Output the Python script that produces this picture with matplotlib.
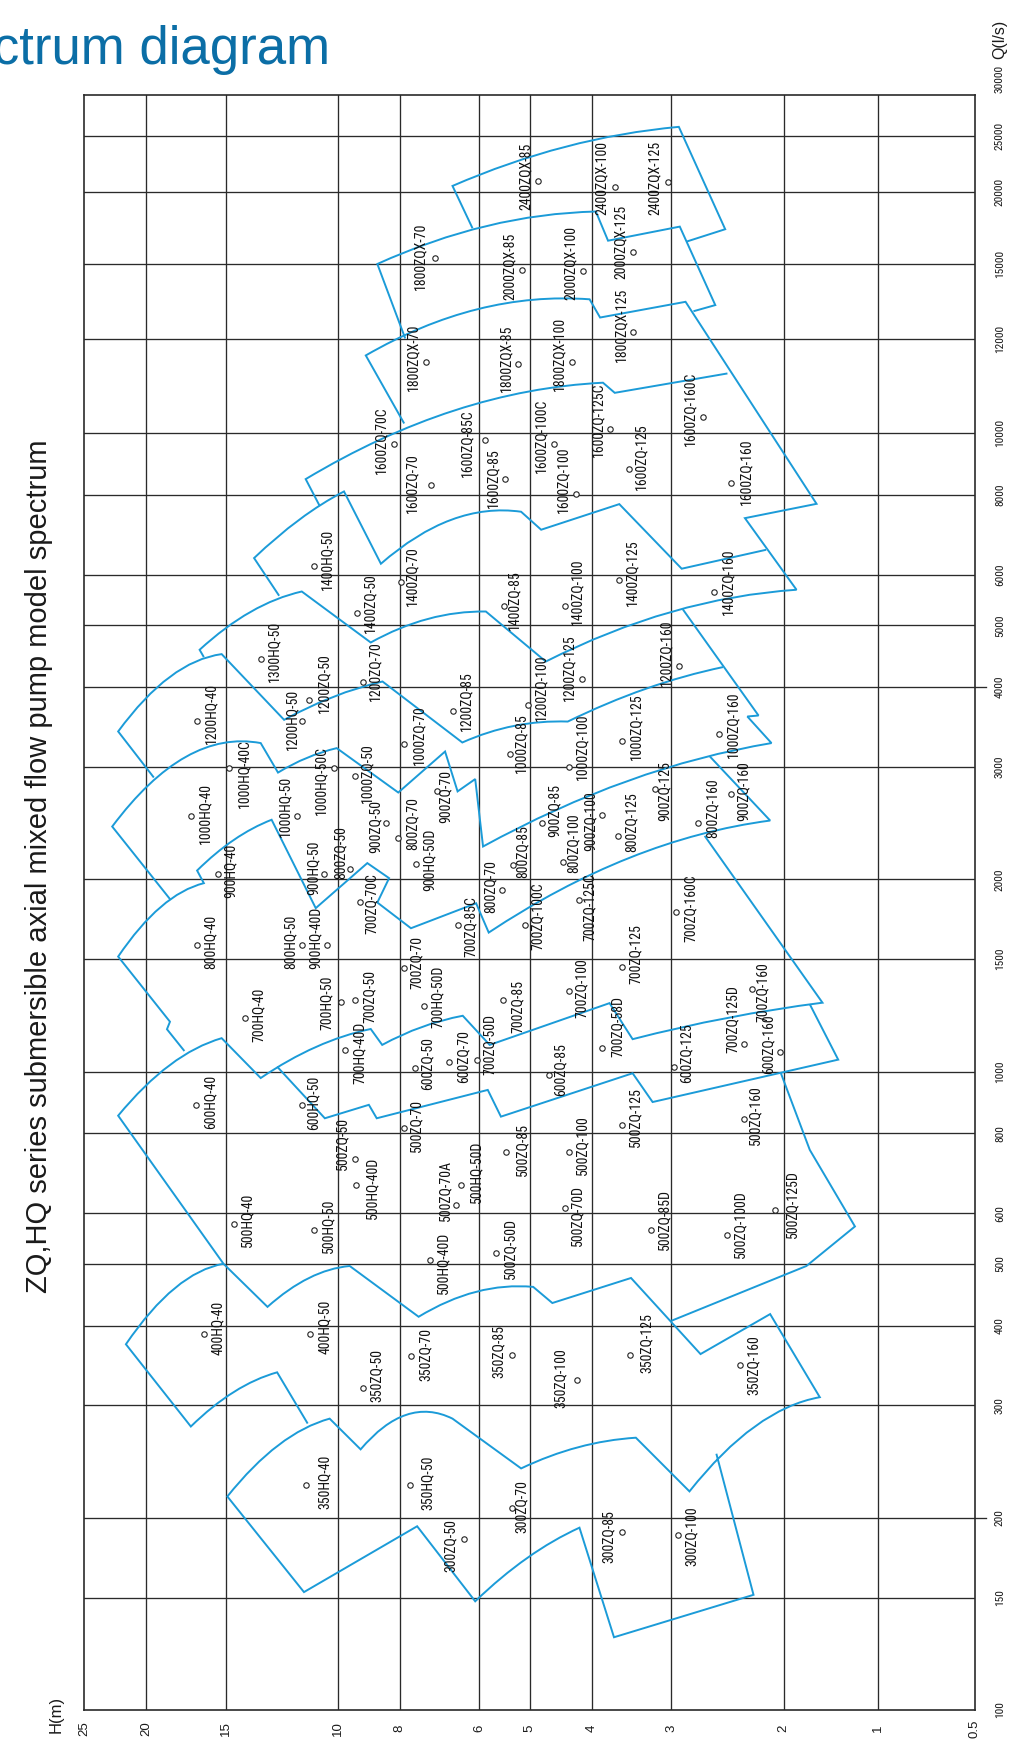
import os
import numpy as np
import matplotlib
matplotlib.use('Agg')
import matplotlib.pyplot as plt
from matplotlib.path import Path
from matplotlib.patches import PathPatch
from matplotlib.textpath import TextPath
from matplotlib import font_manager
from matplotlib.font_manager import FontProperties

# axis definition: log in both directions, but the low-head end (H<2)
# and the very large flows (Q>10000) are stretched on the printed sheet
H_KNOTS = [0.5, 1, 2, 25]
H_AXIS = [0.001, 0.153, 0.301, 1.398]
Q_KNOTS = [100, 10000, 12000, 15000, 20000, 25000, 30000]
Q_AXIS = [2.0, 4.0, 4.147, 4.265, 4.378, 4.465, 4.555]

H_GRID = [20, 15, 10, 8, 6, 5, 4, 3, 2, 1]
H_TICKS = [25, 20, 15, 10, 8, 6, 5, 4, 3, 2, 1, 0.5]
Q_GRID = [150, 200, 300, 400, 500, 600, 800, 1000, 1500, 2000, 3000, 4000,
          5000, 6000, 8000, 10000, 12000, 15000, 20000, 25000]
Q_TICKS = [100, 150, 200, 300, 400, 500, 600, 800, 1000, 1500, 2000, 3000,
           4000, 5000, 6000, 8000, 10000, 12000, 15000, 20000, 25000, 30000]
Q_LONG = [4000, 200]   # these two grid lines run out past the frame

# model points: (name, H m, Q l/s)
MODELS = [
    ('350HQ-40', 11.23, 225), ('350HQ-50', 7.70, 225), ('300ZQ-50', 6.35, 185),
    ('300ZQ-70', 5.33, 207.5), ('300ZQ-85', 3.59, 190), ('300ZQ-100', 2.93, 188),
    ('350ZQ-50', 9.12, 320), ('350ZQ-70', 7.68, 358), ('350ZQ-85', 5.33, 360),
    ('350ZQ-100', 4.21, 329), ('350ZQ-125', 3.48, 360), ('350ZQ-160', 2.34, 347),
    ('400HQ-40', 16.19, 388), ('400HQ-50', 11.07, 388),
    ('500HQ-40', 14.55, 577), ('500HQ-50', 10.89, 565), ('500ZQ-50', 9.41, 729),
    ('500ZQ-70', 7.87, 815), ('500HQ-40D', 9.38, 664), ('500ZQ-70A', 6.53, 618),
    ('500HQ-50D', 6.40, 664), ('500HQ-40D', 7.17, 507), ('500ZQ-50D', 5.64, 520),
    ('500ZQ-85', 5.45, 747), ('500ZQ-100', 4.34, 749), ('500ZQ-70D', 4.41, 611),
    ('500ZQ-85D', 3.23, 564), ('500ZQ-100D', 2.45, 554), ('500ZQ-125D', 2.06, 608),
    ('500ZQ-125', 3.58, 825), ('500ZQ-160', 2.31, 843),
    ('600HQ-40', 16.69, 887), ('600HQ-50', 11.38, 887), ('600ZQ-50', 7.57, 1012),
    ('600ZQ-70', 6.69, 1037), ('600ZQ-85', 4.67, 988), ('600ZQ-125', 2.97, 1015),
    ('600ZQ-160', 2.03, 1072),
    ('700HQ-40', 13.96, 1212), ('700HQ-50', 9.89, 1283), ('700ZQ-50', 9.41, 1295),
    ('700HQ-40D', 9.75, 1081), ('700ZQ-70', 7.87, 1452), ('700HQ-50D', 7.32, 1265),
    ('700ZQ-50D', 6.05, 1043), ('700ZQ-85', 5.51, 1295), ('700ZQ-100', 4.34, 1335),
    ('700ZQ-58D', 3.85, 1088), ('700ZQ-125D', 2.31, 1106), ('700ZQ-160', 2.24, 1345),
    ('700ZQ-125', 3.58, 1460), ('700ZQ-70C', 9.23, 1846), ('700ZQ-85C', 6.47, 1698),
    ('700ZQ-100C', 5.08, 1694), ('700ZQ-125C', 4.19, 1858), ('700ZQ-160C', 2.95, 1781),
    ('800HQ-40', 16.65, 1576), ('800HQ-50', 11.37, 1576), ('900HQ-40D', 10.41, 1579),
    ('900HQ-40', 15.42, 2039), ('900HQ-50', 10.51, 2041), ('800ZQ-50', 9.58, 2076),
    ('900ZQ-50', 8.39, 2455), ('800ZQ-70', 8.04, 2321), ('900HQ-50D', 7.54, 2114),
    ('900ZQ-70', 7.00, 2747), ('800ZQ-70', 5.53, 1926), ('800ZQ-85', 5.32, 2108),
    ('800ZQ-100', 4.43, 2133), ('800ZQ-125', 3.64, 2340), ('800ZQ-160', 2.72, 2450),
    ('900ZQ-85', 4.79, 2450), ('900ZQ-100', 3.86, 2525), ('900ZQ-125', 3.18, 2770),
    ('900ZQ-160', 2.42, 2721),
    ('1000HQ-40', 16.98, 2518), ('1000HQ-50', 11.58, 2518), ('1000HQ-40C', 14.81, 2988),
    ('1000HQ-50C', 10.14, 2988), ('1000ZQ-50', 9.40, 2909), ('1000ZQ-70', 7.87, 3262),
    ('1000ZQ-85', 5.37, 3146), ('1000ZQ-100', 4.34, 3000), ('1000ZQ-125', 3.58, 3289),
    ('1000ZQ-160', 2.53, 3382),
    ('1200HQ-40', 16.65, 3543), ('1200HQ-50', 11.37, 3543), ('1200ZQ-50', 11.10, 3822),
    ('1200ZQ-70', 9.13, 4083), ('1200ZQ-85', 6.59, 3677), ('1200ZQ-100', 5.04, 3753),
    ('1200ZQ-125', 4.14, 4119), ('1200ZQ-160', 2.92, 4321), ('1300HQ-50', 13.21, 4432),
    ('1400HQ-50', 10.90, 6204), ('1400ZQ-50', 9.34, 5237), ('1400ZQ-70', 7.97, 5844),
    ('1400ZQ-85', 5.48, 5365), ('1400ZQ-100', 4.40, 5365), ('1400ZQ-125', 3.62, 5878),
    ('1400ZQ-160', 2.57, 5638),
    ('1600ZQ-70C', 8.16, 9625), ('1600ZQ-85C', 5.87, 9765), ('1600ZQ-70', 7.15, 8280),
    ('1600ZQ-85', 5.46, 8483), ('1600ZQ-100C', 4.59, 9630), ('1600ZQ-100', 4.24, 8038),
    ('1600ZQ-125C', 3.74, 10090), ('1600ZQ-125', 3.50, 8796), ('1600ZQ-160C', 2.68, 10321),
    ('1600ZQ-160', 2.42, 8350),
    ('1800ZQX-70', 7.04, 15350), ('1800ZQX-70', 7.28, 11484), ('1800ZQX-85', 5.21, 11448),
    ('1800ZQX-100', 4.29, 11484), ('1800ZQX-125', 3.45, 12264), ('2000ZQX-85', 5.14, 14735),
    ('2000ZQX-100', 4.12, 14695), ('2000ZQX-125', 3.45, 15720), ('2400ZQX-85', 4.86, 20920),
    ('2400ZQX-100', 3.68, 20430), ('2400ZQX-125', 3.04, 20840),
]

# where each name sits relative to its point (pixels, right / up)
LABEL_SHIFT = [
    (19, 3), (18, 2), (-12.6, -6), (10, 1), (-13, -5), (14, -1),
    (13.4, 12), (14.6, 2), (-13.4, 3), (-17, 2), (16.5, 12), (14, 0),
    (13.4, 6), (15, 7),
    (13, 4), (14.5, 4), (-12.6, 16), (12.6, 3), (17, -3), (-10.4, 15),
    (14.5, 13), (13, -3), (14, 4), (16, 3), (13, 7), (13, -7),
    (13, 11), (13, 11), (17, 5), (12.6, 8), (12, 3.5),
    (15, 3), (11, 2), (13, 5), (14.6, 5), (12, 5), (12, 14), (-11, 8),
    (13, 3), (-14, 0), (15, 3), (15, -3), (13, 6), (13.4, 10),
    (12.6, 15), (14.5, -7), (13, 3), (15, 22), (-11, 25), (10.6, -2.5),
    (13, 13), (12, -2), (12.4, -2), (12, 9), (11, -7), (15, 3),
    (14, 4), (-11.6, 4), (-11, 7), (12.7, 3), (-10, 6), (-9, 16),
    (-10.6, -4), (14, 15), (14, 4), (9.4, -5), (-11, 3), (10, 13),
    (10.7, 18), (13.4, 14), (14, 15), (12.7, 13), (-11, -6.7), (9.3, -2.4),
    (12.3, 2.6),
    (14.4, 2.4), (-11.6, 9), (15, -5), (-13, -12), (12.3, 2.4), (15, 9),
    (11, 10.7), (13.3, 20.6), (14, 15), (14.6, 9),
    (15, 7.7), (-10, 1), (15, 16.7), (12.7, 10), (12.7, 9), (13.4, 16.7),
    (-12.7, 11), (-12.6, 12.7), (13.3, 7.3),
    (13.3, 5.7), (14, 9.4), (11.6, 5.6), (10, 6), (12.3, 14.3), (12.7, 7.4),
    (14, 10.6),
    (-13.3, 4), (-17.7, -3.3), (-18.4, 2.4), (-11.7, 0.7), (-12.3, 7.6), (-12.7, 14),
    (-12.4, 8.3), (12.7, 12.3), (-12, 8.4), (15, 11.6),
    (-14.3, 1.6), (-12.4, 5), (-12.6, 5), (-12.7, 8.4), (-11.6, 6.7), (-12.7, 3.3),
    (-12.3, 7.7), (-11.6, 10.6), (-11.6, 4), (-13.3, 8.4), (-12.7, 3.4),
]

# range outlines: (H, Q) = straight to the point,
# (Hmid, Qmid, Hend, Qend) = curved edge through the mid point
OUTLINE_ZQX_TOP = [(6.15, 17300), (6.61, 20480), (4.40, 23970, 2.92, 25760),
                   (2.47, 17230), (2.84, 16400)]
OUTLINE_ZQX_MID = [(7.84, 12030), (8.67, 15000), (5.84, 17460, 3.94, 18490),
                   (3.77, 16460), (2.91, 17410), (2.56, 13280), (2.77, 13040)]
OUTLINE_ZQ_1600 = [(7.87, 10190), (9.04, 11630), (6.04, 13120, 4.03, 13510),
                   (3.88, 12800), (2.85, 13410), (1.571, 7750), (2.30, 7360),
                   (1.82, 5685), (3.00, 5250, 4.72, 4388), (5.86, 5256),
                   (7.22, 5119, 8.88, 4700), (11.39, 5649),
                   (13.70, 5250, 16.47, 4578), (16.22, 4459)]
OUTLINE_ZQ_1600C = [(10.68, 7696), (11.23, 8473), (6.57, 10450, 3.84, 11030),
                    (3.68, 10815), (2.45, 11230)]
OUTLINE_ZQ_1400 = [(12.36, 5563), (13.53, 6373), (11.50, 7317, 9.78, 8104),
                   (8.56, 6244), (6.64, 7317, 5.16, 7532), (4.80, 7059),
                   (3.62, 7742), (2.89, 6133), (2.13, 6567)]
OUTLINE_ZQ_1000 = [(2.88, 5302), (2.19, 3612), (2.28, 3599), (2.09, 3270),
                   (3.51, 2854, 5.92, 2252), (6.09, 2872), (6.49, 2747),
                   (6.79, 3172), (8.04, 2736), (10.04, 3211),
                   (11.18, 3101, 12.41, 2940), (13.21, 3270),
                   (17.31, 3112, 22.58, 2420), (18.29, 1858)]
OUTLINE_ZQ_1200 = [(19.43, 2888), (22.10, 3410), (18.34, 4152, 15.21, 4507),
                   (12.14, 3556), (10.17, 3864, 8.51, 4083), (6.38, 3277),
                   (5.29, 3480, 4.36, 3534), (3.29, 3978, 2.49, 4301)]
OUTLINE_ZQ_800 = [(2.61, 3115), (2.10, 2473), (3.49, 2162, 5.80, 1651),
                  (6.07, 1835), (7.68, 1677), (8.67, 1840), (8.31, 2009),
                  (8.99, 2121), (10.83, 1803), (12.70, 2480),
                  (14.55, 2307, 16.62, 2065), (16.22, 1973),
                  (18.95, 1811, 22.10, 1514), (18.33, 1197), (18.53, 1165),
                  (17.40, 1077)]
OUTLINE_ZQ_SMALL = [(2.66, 2340), (1.504, 1282), (2.45, 1214, 3.45, 1124),
                    (3.75, 1280), (5.78, 1101), (6.37, 1223),
                    (7.38, 1175, 8.52, 1101), (8.88, 1166),
                    (10.82, 1093, 13.21, 977), (15.21, 1128),
                    (18.34, 1024, 22.10, 853), (15.11, 500), (12.89, 428),
                    (11.10, 475, 9.58, 496), (7.47, 413), (6.07, 452, 4.94, 460),
                    (4.61, 434), (3.47, 475), (2.70, 361), (2.10, 417),
                    (1.534, 309), (2.22, 278, 2.81, 220), (3.41, 267),
                    (4.20, 258, 5.16, 239), (6.61, 286), (7.81, 290, 9.21, 256),
                    (10.30, 286), (12.39, 260, 14.90, 216), (11.30, 153),
                    (7.51, 194), (6.09, 148), (5.05, 173, 4.18, 193),
                    (3.69, 130), (2.23, 151.5), (2.55, 252)]
OUTLINE_ZQ_600 = [(1.651, 1275), (1.340, 1044), (3.21, 896), (3.45, 994),
                  (5.55, 850), (5.82, 936), (8.69, 845), (8.94, 887),
                  (10.48, 845), (12.45, 1018)]
OUTLINE_ZQ_500 = [(2.02, 994), (1.651, 754), (1.185, 572), (1.692, 496),
                  (3.00, 407)]
OUTLINE_HQ_400 = [(15.11, 500), (18.01, 458, 21.49, 374), (17.00, 278),
                  (14.55, 315, 12.45, 338), (11.15, 281)]

OUTLINES = [OUTLINE_ZQX_TOP, OUTLINE_ZQX_MID, OUTLINE_ZQ_1600, OUTLINE_ZQ_1600C,
            OUTLINE_ZQ_1400, OUTLINE_ZQ_1000, OUTLINE_ZQ_1200, OUTLINE_ZQ_800,
            OUTLINE_ZQ_SMALL, OUTLINE_ZQ_600, OUTLINE_ZQ_500, OUTLINE_HQ_400]

TITLE = 'ZQ,HQ series submersible axial mixed flow pump model spectrum'
BANNER = 'Spectrum diagram'

BLUE = '#1b9bd8'
INK = '#2a2a2a'

# condensed sans faces in order of preference (file name stems)
NARROW_FILES = ['liberationsansnarrow-regular', 'arialn.', 'arialnarrow',
                'robotocondensed-regular', 'notosans-condensed.', 'notosans-condensed-regular',
                'opensans-condensed', 'opensans_condensed', 'dejavusanscondensed.']

names = {f.name for f in font_manager.fontManager.ttflist}
PLAIN = 'Liberation Sans' if 'Liberation Sans' in names else 'DejaVu Sans'


def narrow_face():
    files = [f.fname for f in font_manager.fontManager.ttflist]
    for stem in NARROW_FILES:
        for fn in files:
            if os.path.basename(fn).lower().startswith(stem):
                return FontProperties(fname=fn)
    return FontProperties(family=PLAIN)


NARROW = narrow_face()


def fit_size(fp, sample, length_px):
    """font size (pt) that makes `sample` about `length_px` long at 100 dpi"""
    w = TextPath((0, 0), sample, size=10, prop=fp).get_extents().width
    return 10 * (length_px * 0.72) / w


LABEL_FP = NARROW.copy()
LABEL_FP.set_size(fit_size(NARROW, '350HQ-40', 53))
TICK_FP = NARROW.copy()
TICK_FP.set_size(fit_size(NARROW, '30000', 27))


def _interp(x, xp, fp):
    x = np.asarray(x, float)
    y = np.interp(x, xp, fp)
    lo_slope = (fp[1] - fp[0]) / (xp[1] - xp[0])
    hi_slope = (fp[-1] - fp[-2]) / (xp[-1] - xp[-2])
    y = np.where(x < xp[0], fp[0] + (x - xp[0]) * lo_slope, y)
    y = np.where(x > xp[-1], fp[-1] + (x - xp[-1]) * hi_slope, y)
    return y


LOG_H = np.log10(H_KNOTS)
LOG_Q = np.log10(Q_KNOTS)


def h_fwd(h):
    return _interp(np.log10(np.clip(h, 1e-6, None)), LOG_H, H_AXIS)


def h_inv(v):
    return 10 ** _interp(v, H_AXIS, LOG_H)


def q_fwd(q):
    return _interp(np.log10(np.clip(q, 1e-6, None)), LOG_Q, Q_AXIS)


def q_inv(v):
    return 10 ** _interp(v, Q_AXIS, LOG_Q)


def outline_path(stroke):
    verts, codes = [], []
    for i, p in enumerate(stroke):
        if len(p) == 2:
            verts.append(p)
            codes.append(Path.MOVETO if i == 0 else Path.LINETO)
            continue
        hm, qm, he, qe = p
        h0, q0 = verts[-1]
        a = np.array([h_fwd(h0), q_fwd(q0)])
        m = np.array([h_fwd(hm), q_fwd(qm)])
        e = np.array([h_fwd(he), q_fwd(qe)])
        c = 2 * m - (a + e) / 2       # quadratic control so the curve hits the mid point
        verts += [(float(h_inv(c[0])), float(q_inv(c[1]))), (he, qe)]
        codes += [Path.CURVE3, Path.CURVE3]
    return Path(verts, codes)


fig = plt.figure(figsize=(10.09, 17.43), dpi=100)
ax = fig.add_axes([84 / 1009, 33 / 1743, 891 / 1009, 1615 / 1743])
ax.set_xscale('function', functions=(h_fwd, h_inv))
ax.set_yscale('function', functions=(q_fwd, q_inv))
ax.set_xlim(25, 0.5)
ax.set_ylim(100, 28500)
ax.tick_params(which='both', length=0, labelbottom=False, labelleft=False)
ax.set_xticks([])
ax.set_yticks([])
ax.minorticks_off()
for s in ax.spines.values():
    s.set_color(INK)
    s.set_linewidth(1.2)

for h in H_GRID:
    ax.axvline(h, color=INK, lw=0.95, zorder=1)
for q in Q_GRID:
    ax.axhline(q, color=INK, lw=0.95, zorder=1)
for q in Q_LONG:
    ax.plot([1.0, 1.012], [q, q], color=INK, lw=0.95,
            transform=ax.get_yaxis_transform(), clip_on=False)

for stroke in OUTLINES:
    ax.add_patch(PathPatch(outline_path(stroke), fill=False, edgecolor=BLUE,
                           lw=1.4, joinstyle='miter', zorder=2))

mh = [m[1] for m in MODELS]
mq = [m[2] for m in MODELS]
ax.plot(mh, mq, 'o', ls='none', ms=3.9, mfc='white', mec='#222222', mew=0.8, zorder=3)
for (name, h, q), (dx, dy) in zip(MODELS, LABEL_SHIFT):
    ax.annotate(name, (h, q), xytext=(dx, dy), textcoords='offset pixels',
                rotation=90, ha='center', va='center', fontproperties=LABEL_FP,
                color='#111111', zorder=4)

# axis numbers
for h in H_TICKS:
    ax.text(h, -0.0115, f'{h:g}', transform=ax.get_xaxis_transform(),
            rotation=90, ha='center', va='center', fontsize=9.5,
            family=PLAIN, color='#1a1a1a', clip_on=False)
for q in Q_TICKS:
    ax.text(1.028, q, f'{q:g}', transform=ax.get_yaxis_transform(),
            rotation=90, ha='center', va='center', fontproperties=TICK_FP,
            color='#1a1a1a', clip_on=False)
ax.text(-0.031, -0.0025, 'H(m)', transform=ax.transAxes, rotation=90,
        ha='center', va='center', fontsize=12, family=PLAIN, color='#1a1a1a')
ax.text(1.028, 1.0347, 'Q(l/s)', transform=ax.transAxes, rotation=90,
        ha='center', va='center', fontsize=11.5, family=PLAIN, color='#1a1a1a')

fig.text(39 / 1009, 1 - 866 / 1743, TITLE, rotation=90, ha='center', va='center',
         fontsize=21, family=PLAIN, color='#1a1a1a')
fig.text(330 / 1009, 1 - 64 / 1743, BANNER, ha='right', va='baseline',
         fontsize=38, family=PLAIN, color='#0b6ea6')

fig.savefig('out.png', dpi=100, facecolor='white')
